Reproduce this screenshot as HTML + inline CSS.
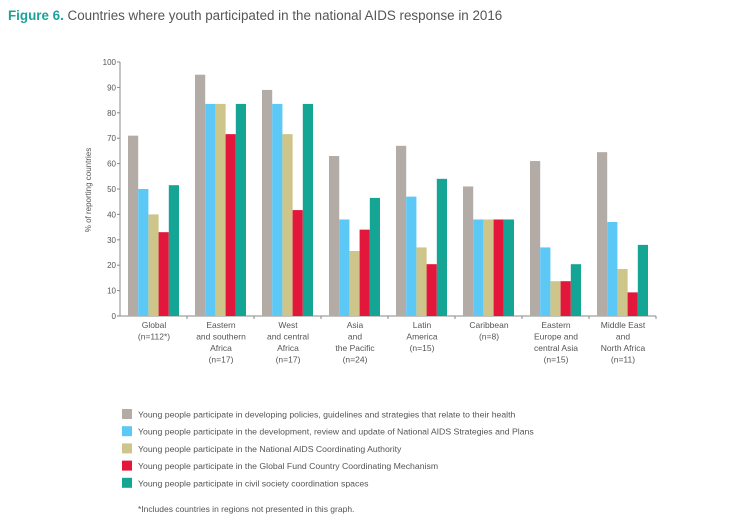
<!DOCTYPE html>
<html><head><meta charset="utf-8"><style>
body{margin:0;background:#fff;}
svg{display:block;font-family:"Liberation Sans",sans-serif;}
</style></head><body>
<svg id="c" width="737" height="519" viewBox="0 0 737 519">
<text x="8" y="20" font-size="13.4" fill="#555"><tspan fill="#1aa39a" font-weight="bold">Figure 6.</tspan> Countries where youth participated in the national AIDS response in 2016</text>
<text transform="translate(91,190) rotate(-90)" text-anchor="middle" font-size="8" fill="#555">% of reporting countries</text>
<g id="plot"></g>
<g id="legend"></g>
<text x="138" y="512" font-size="8.5" fill="#555">*Includes countries in regions not presented in this graph.</text>
</svg>
<script>
const categories=[["Global","(n=112*)"],["Eastern","and southern","Africa","(n=17)"],["West","and central","Africa","(n=17)"],["Asia","and","the Pacific","(n=24)"],["Latin","America","(n=15)"],["Caribbean","(n=8)"],["Eastern","Europe and","central Asia","(n=15)"],["Middle East","and","North Africa","(n=11)"]];
const policies=[71,95,89,63,67,51,61,64.5];
const strategies=[50,83.5,83.5,38,47,38,27,37];
const nac=[40,83.5,71.6,25.6,27,38,13.7,18.5];
const globalFund=[33,71.6,41.7,34,20.4,38,13.7,9.3];
const civil=[51.5,83.5,83.5,46.5,54,38,20.4,28];
const yTicks=[0,10,20,30,40,50,60,70,80,90,100];
const seriesLabels=["Young people participate in developing policies, guidelines and strategies that relate to their health","Young people participate in the development, review and update of National AIDS Strategies and Plans","Young people participate in the National AIDS Coordinating Authority","Young people participate in the Global Fund Country Coordinating Mechanism","Young people participate in civil society coordination spaces"];
const series=[policies,strategies,nac,globalFund,civil];
const colors=["#b3aba5","#5bc8f5","#cdc589","#e2173b","#14a594"];
const names=["policies","strategies","nac","global-fund","civil-society"];
const NS="http://www.w3.org/2000/svg";
const x0=120,gw=67,y0=316,yTop=62;
const y=v=>y0-(v/100)*(y0-yTop);
const plot=document.getElementById('plot');
function mk(t,a,p){const e=document.createElementNS(NS,t);for(const k in a)e.setAttribute(k,a[k]);(p||plot).appendChild(e);return e;}
let ax=mk('line',{x1:x0,y1:y0,x2:x0,y2:yTop,stroke:'#888','stroke-width':1});


yTicks.forEach(t=>{
 mk('line',{x1:x0-3,x2:x0,y1:y(t),y2:y(t),stroke:'#888'});
 const tx=mk('text',{x:x0-4,y:y(t)+3,'text-anchor':'end','font-size':8,fill:'#555'});tx.textContent=t;
 
 
});
let xa=mk('line',{x1:x0,y1:y0,x2:x0+gw*categories.length,y2:y0,stroke:'#888'});


categories.forEach((c,i)=>{
 const gx=x0+gw*i;
 mk('line',{x1:gx+gw,x2:gx+gw,y1:y0,y2:y0+3,stroke:'#888'});
 series.forEach((s,j)=>{
  const r=mk('rect',{x:gx+8+j*10.2,y:y(s[i]),width:10.2,height:y0-y(s[i]),fill:colors[j]});
  
  
 });
 c.forEach((l,k)=>{
  const t=mk('text',{x:gx+gw/2+0.5,y:y0+12+k*11.5,'text-anchor':'middle','font-size':8.5,fill:'#555'});t.textContent=l;
  
  
 });
});
const lg=document.getElementById('legend');
seriesLabels.forEach((l,j)=>{
 const yy=409+j*17.2;
 const g=mk('g',{},lg);
 
 
 mk('rect',{x:122,y:yy,width:10,height:10,fill:colors[j]},g);
 const t=mk('text',{x:138,y:yy+8.5,'font-size':8.7,fill:'#555'},g);t.textContent=l;
});
</script>
</body></html>
